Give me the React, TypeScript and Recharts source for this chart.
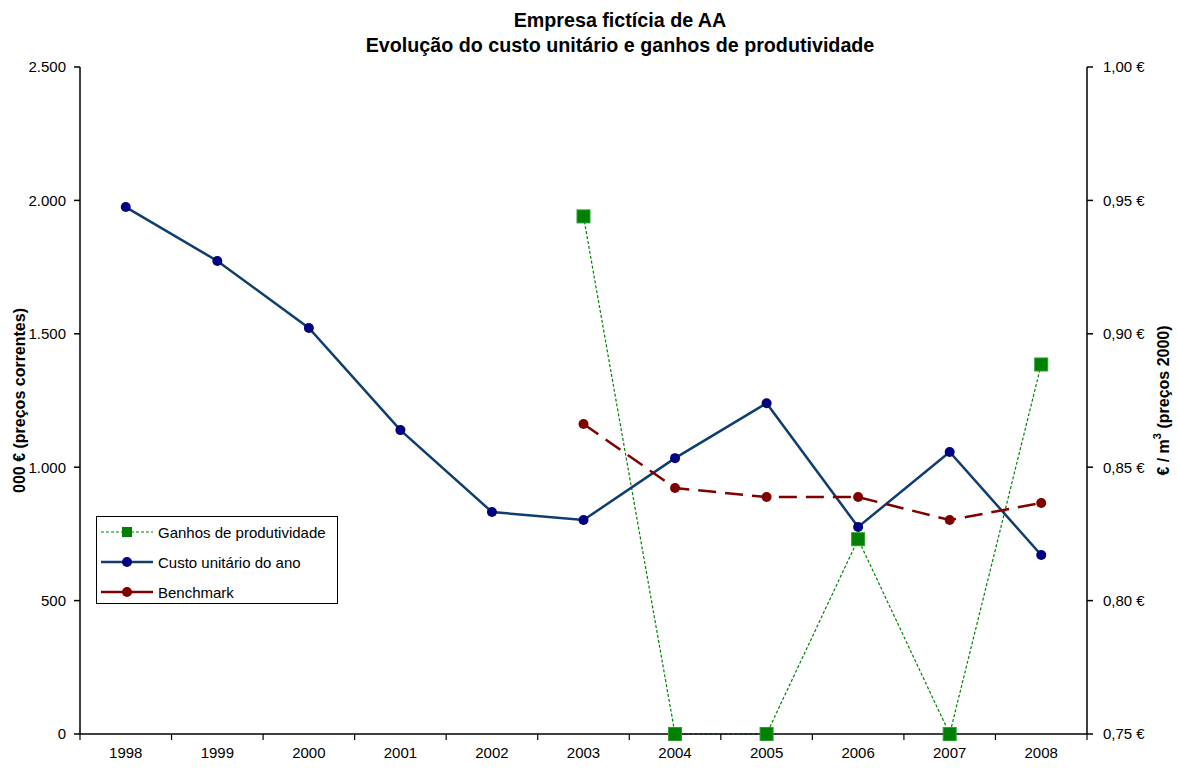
import React from 'react';
import { LineChart, Line, XAxis, YAxis, Label } from 'recharts';

const years = ['1998', '1999', '2000', '2001', '2002', '2003', '2004', '2005', '2006', '2007', '2008'];
const custoUnitario = [0.9475, 0.9273, 0.9022, 0.8639, 0.8332, 0.8302, 0.8534, 0.874, 0.8276, 0.8557, 0.8171];
const benchmark = [null, null, null, null, null, 0.8662, 0.8422, 0.8388, 0.8388, 0.8302, 0.8366];
const ganhos = [null, null, null, null, null, 1940, 0, 0, 730, 0, 1385];

const leftTicks = [0, 500, 1000, 1500, 2000, 2500];
const rightTicks = [0.75, 0.8, 0.85, 0.9, 0.95, 1.0];

const data = years.map((y, i) => ({
  year: y,
  ganhos: ganhos[i],
  custo: custoUnitario[i],
  benchmark: benchmark[i],
}));

const W = 1177;
const H = 769;
const LEFT_W = 80;
const RIGHT_W = 90;
const HALF_BAND = (W - LEFT_W - RIGHT_W) / years.length / 2;

const FONT = '"Liberation Sans", Arial, sans-serif';
const GREEN = '#008000';
const BLUE_LINE = '#0f3e6e';
const BLUE_DOT = '#000080';
const RED = '#800000';

const fmtLeft = (v: number) => v.toLocaleString('de-DE');
const fmtRight = (v: number) => v.toFixed(2).replace('.', ',') + ' €';

const SquareDot = (props: any) => {
  const { cx, cy, value } = props;
  if (value === null || value === undefined || cx == null || cy == null) return null;
  return <rect x={cx - 6.5} y={cy - 6.5} width={13} height={13} fill={GREEN} stroke="#2aa02a" strokeWidth={1} />;
};

// category label plus Excel-style tick marks between categories
const YearTick = (props: any) => {
  const { x, y, payload, index } = props;
  const last = index === years.length - 1;
  return (
    <g>
      <line x1={x - HALF_BAND} y1={y} x2={x - HALF_BAND} y2={y + 6} stroke="#000" strokeWidth={1.2} />
      {last && <line x1={x + HALF_BAND} y1={y} x2={x + HALF_BAND} y2={y + 6} stroke="#000" strokeWidth={1.2} />}
      <text x={x} y={y + 24} textAnchor="middle" fontFamily={FONT} fontSize={15} fill="#000">
        {payload.value}
      </text>
    </g>
  );
};

const legendItems = [
  { name: 'Ganhos de produtividade', color: GREEN, dash: '3 2', width: 1.2, marker: 'square', dot: GREEN },
  { name: 'Custo unitário do ano', color: BLUE_LINE, dash: undefined, width: 2.5, marker: 'circle', dot: BLUE_DOT },
  { name: 'Benchmark', color: RED, dash: undefined, width: 2.5, marker: 'circle', dot: RED },
];

const LegendBox = () => (
  <div
    style={{
      position: 'absolute',
      left: 96,
      top: 516,
      width: 240,
      height: 86,
      border: '1px solid #000',
      background: '#fff',
      fontFamily: FONT,
      fontSize: 15,
      color: '#000',
    }}
  >
    {legendItems.map((it) => (
      <div key={it.name} style={{ display: 'flex', alignItems: 'center', height: 30 }}>
        <svg width={56} height={16} style={{ marginLeft: 2, marginRight: 3 }}>
          <line x1={2} y1={8} x2={54} y2={8} stroke={it.color} strokeWidth={it.width} strokeDasharray={it.dash} />
          {it.marker === 'square' ? (
            <rect x={23} y={3} width={10} height={10} fill={it.dot} />
          ) : (
            <circle cx={28} cy={8} r={5} fill={it.dot} />
          )}
        </svg>
        <span>{it.name}</span>
      </div>
    ))}
  </div>
);

const AxisTitle = ({ viewBox, value, side }: any) => {
  const x = side === 'left' ? viewBox.x + 19 : viewBox.x + viewBox.width - 14;
  const y = viewBox.y + viewBox.height / 2;
  return (
    <text
      x={x}
      y={y}
      transform={`rotate(-90, ${x}, ${y})`}
      textAnchor="middle"
      dominantBaseline="central"
      fontFamily={FONT}
      fontWeight="bold"
      fontSize={16}
      fill="#000"
    >
      {value}
    </text>
  );
};

export default function App() {
  return (
    <div style={{ position: 'absolute', left: 0, top: 0, width: W, height: H, background: '#fff' }}>
      <div
        style={{
          position: 'absolute',
          left: 120,
          width: 1000,
          top: 8,
          textAlign: 'center',
          fontFamily: FONT,
          fontWeight: 'bold',
          fontSize: 19.7,
          lineHeight: '25px',
          color: '#000',
        }}
      >
        <div>Empresa fictícia de AA</div>
        <div>Evolução do custo unitário e ganhos de produtividade</div>
      </div>
      <LineChart width={W} height={H} data={data} margin={{ top: 67, right: 0, bottom: 0, left: 0 }}>
        <XAxis
          dataKey="year"
          height={35}
          padding={{ left: HALF_BAND, right: HALF_BAND }}
          stroke="#000"
          strokeWidth={1.5}
          tickLine={false}
          tickSize={0}
          tickMargin={0}
          interval={0}
          tick={<YearTick />}
        />
        <YAxis
          yAxisId="left"
          orientation="left"
          width={LEFT_W}
          domain={[0, 2500]}
          ticks={leftTicks}
          tickFormatter={fmtLeft}
          stroke="#000"
          strokeWidth={1.5}
          tickSize={6}
          tickMargin={8}
          tick={{ fill: '#000', fontFamily: FONT, fontSize: 15 }}
        >
          <Label content={(p: any) => <AxisTitle {...p} side="left" value="000 € (preços correntes)" />} />
        </YAxis>
        <YAxis
          yAxisId="right"
          orientation="right"
          width={RIGHT_W}
          domain={[0.75, 1.0]}
          ticks={rightTicks}
          tickFormatter={fmtRight}
          stroke="#000"
          strokeWidth={1.5}
          tickSize={6}
          tickMargin={10}
          tick={{ fill: '#000', fontFamily: FONT, fontSize: 15 }}
        >
          <Label
            content={(p: any) => (
              <AxisTitle
                {...p}
                side="right"
                value={
                  <>
                    € / m<tspan dy={-6} fontSize={11}>3</tspan>
                    <tspan dy={6}> (preços 2000)</tspan>
                  </>
                }
              />
            )}
          />
        </YAxis>
        <Line
          yAxisId="left"
          type="linear"
          dataKey="ganhos"
          name="Ganhos de produtividade"
          stroke={GREEN}
          strokeWidth={1.2}
          strokeDasharray="3 2"
          dot={<SquareDot />}
          activeDot={false}
          isAnimationActive={false}
        />
        <Line
          yAxisId="right"
          type="linear"
          dataKey="custo"
          name="Custo unitário do ano"
          stroke={BLUE_LINE}
          strokeWidth={2.5}
          dot={{ r: 5, fill: BLUE_DOT, stroke: BLUE_DOT, strokeWidth: 0 }}
          activeDot={false}
          isAnimationActive={false}
        />
        <Line
          yAxisId="right"
          type="linear"
          dataKey="benchmark"
          name="Benchmark"
          stroke={RED}
          strokeWidth={2.5}
          strokeDasharray="18 9"
          dot={{ r: 5, fill: RED, stroke: RED, strokeWidth: 0, strokeDasharray: '' }}
          activeDot={false}
          isAnimationActive={false}
        />
      </LineChart>
      <LegendBox />
    </div>
  );
}
